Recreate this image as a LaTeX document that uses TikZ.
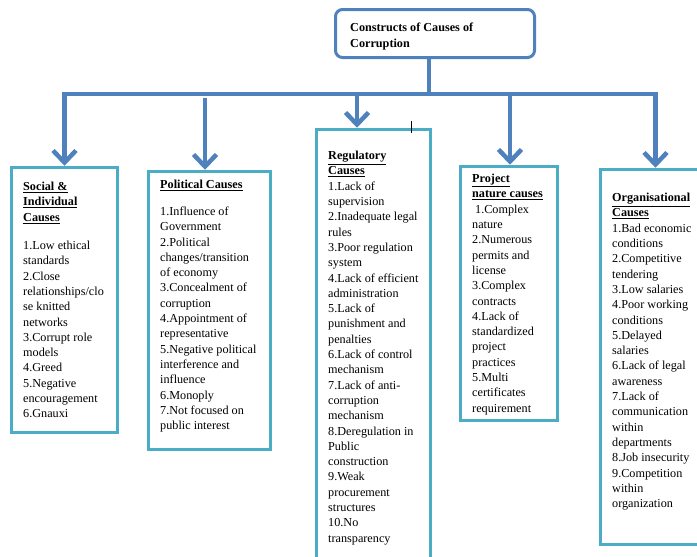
\documentclass[tikz,border=0pt]{standalone}
\usepackage{fontspec}
\setmainfont{Liberation Serif}
\usetikzlibrary{arrows.meta}
\definecolor{linkblue}{HTML}{4F81BD}
\definecolor{boxcyan}{HTML}{4BACC6}
\newcommand{\causehead}[1]{\textbf{\underline{#1}}}
\tikzset{
	cause/.style={draw=boxcyan,line width=3.5pt,inner sep=0pt},
	causetxt/.style={anchor=north west,inner sep=0pt,align=left,font=\fontsize{12.2}{15.3}\selectfont},
	link/.style={draw=linkblue,line width=4.5pt},
	arr/.style={link,-{Straight Barb[length=12pt,width=23pt]}}
}

\begin{document}
\begin{tikzpicture}[x=1pt,y=-1pt]
	\useasboundingbox (0,0) rectangle (697,557);
	\node[draw=linkblue,line width=3pt,rounded corners=7pt,minimum width=199pt,minimum height=48pt] (top) at (435,33.5) {};
	\node[causetxt,font=\fontsize{12.2}{15.7}\selectfont\bfseries] (toptxt) at (350,23) {Constructs of Causes of\\Corruption};
	\node[cause,minimum width=106pt,minimum height=265pt] (social) at (64.5,300) {};
	\node[cause,minimum width=122pt,minimum height=278pt] (polit) at (209.5,310.5) {};
	\node[cause,minimum width=114pt,minimum height=441pt] (regul) at (373.5,350) {};
	\node[cause,minimum width=97pt,minimum height=254pt] (proj) at (509,293.5) {};
	\node[cause,minimum width=110pt,minimum height=375pt] (organ) at (655.5,357) {};
	\coordinate (hub) at (429,94);
	\coordinate (tl) at (64.5,94);
	\coordinate (tr) at (655.5,94);
	\coordinate (b2) at (205,98);
	\coordinate (b3) at (357,94);
	\coordinate (b4) at (510,94);
	\draw[link] (hub |- top.south) -- (hub);
	\draw[arr] (hub) -- (tl) -- (social.north);
	\draw[arr] (hub) -- (tr) -- (organ.north);
	\draw[arr] (b2) -- (b2 |- polit.north);
	\draw[arr] (b3) -- (b3 |- regul.north);
	\draw[arr] (b4) -- (b4 |- proj.north);
	\draw[line width=0.8pt] (411,121) -- (411,133);
	\node[causetxt] (socialtxt) at (23,182) {\causehead{Social \&}\\\causehead{Individual}\\\causehead{Causes}\\[13pt]1.Low ethical\\standards\\2.Close\\relationships/clo\\se knitted\\networks\\3.Corrupt role\\models\\4.Greed\\5.Negative\\encouragement\\6.Gnauxi};
	\node[causetxt] (polittxt) at (160,180) {\causehead{Political Causes}\\[11.5pt]1.Influence of\\Government\\2.Political\\changes/transition\\of economy\\3.Concealment of\\corruption\\4.Appointment of\\representative\\5.Negative political\\interference and\\influence\\6.Monoply\\7.Not focused on\\public interest};
	\node[causetxt] (regultxt) at (328,151) {\causehead{Regulatory}\\\causehead{Causes}\\1.Lack of\\supervision\\2.Inadequate legal\\rules\\3.Poor regulation\\system\\4.Lack of efficient\\administration\\5.Lack of\\punishment and\\penalties\\6.Lack of control\\mechanism\\7.Lack of anti-\\corruption\\mechanism\\8.Deregulation in\\Public\\construction\\9.Weak\\procurement\\structures\\10.No\\transparency};
	\node[causetxt] (projtxt) at (472,174) {\causehead{Project}\\\causehead{nature causes}\\\hspace{3pt}1.Complex\\nature\\2.Numerous\\permits and\\license\\3.Complex\\contracts\\4.Lack of\\standardized\\project\\practices\\5.Multi\\certificates\\requirement};
	\node[causetxt] (organtxt) at (612,193) {\causehead{Organisational}\\\causehead{Causes}\\1.Bad economic\\conditions\\2.Competitive\\tendering\\3.Low salaries\\4.Poor working\\conditions\\5.Delayed\\salaries\\6.Lack of legal\\awareness\\7.Lack of\\communication\\within\\departments\\8.Job insecurity\\9.Competition\\within\\organization};
\end{tikzpicture}
\end{document}
